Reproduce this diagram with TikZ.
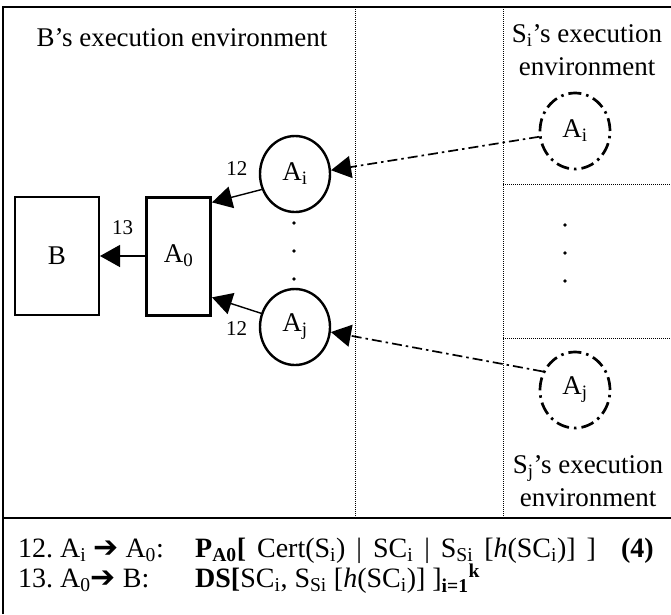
\documentclass[tikz,border=0pt]{standalone}
\usepackage{fontspec}
\setmainfont{Liberation Serif}
\newfontfamily\arrowfont{DejaVu Sans}
\usetikzlibrary{positioning,arrows.meta,shapes.geometric}
\newcommand{\sarr}{{\arrowfont\fontsize{30}{30}\selectfont ➔}}
\tikzset{
    frame/.style={line width=2.8pt},
    envline/.style={line width=1pt,dash pattern=on 1pt off 1pt},
    host/.style={draw,line width=2pt,minimum width=84pt,minimum height=118pt,inner sep=0pt},
    agent/.style={ellipse,draw,line width=2.4pt,minimum width=70pt,minimum height=76pt,inner sep=0pt},
    remote/.style={agent,line width=2.7pt,dash pattern=on 13pt off 5pt on 2.5pt off 5pt},
    msg/.style={-{Triangle[length=20pt,width=22pt]},line width=1.4pt},
    move/.style={msg,line width=1.7pt,dash pattern=on 10pt off 4pt on 2.5pt off 4pt},
    lbl/.style={font=\fontsize{21}{25}\selectfont},
    eqline/.style={anchor=base west,inner sep=0pt,font=\fontsize{28}{30}\selectfont},
}
\begin{document}
\begin{tikzpicture}[x=1pt,y=-1pt,font=\fontsize{27}{33}\selectfont]
    \useasboundingbox (0,0) rectangle (671,614);
    % frame and environments
    \draw[frame] (3,614) -- (3,7) -- (671,7);
    \draw[frame] (3,518) -- (671,518);
    \draw[envline] (355,7) -- (355,518);
    \draw[envline] (503,7) -- (503,518);
    \draw[envline] (503,184) -- (671,184);
    \draw[envline] (503,338) -- (671,338);
    \node (benv) at (182,38) {B’s execution environment};
    \node[align=center] (sienv) at (587,50) {S\textsubscript{i}’s execution\\environment};
    \node[align=center] (sjenv) at (588,481) {S\textsubscript{j}’s execution\\environment};
    % agents
    \node[host] (B) at (57,256) {B};
    \node[host,right=45pt of B,line width=3pt,minimum width=64pt] (A0) {A\textsubscript{0}};
    \node[agent] (Ai) at (295,174) {A\textsubscript{i}};
    \node[agent] (Aj) at (295,327) {A\textsubscript{j}};
    \node[remote] (DAi) at (575,131) {A\textsubscript{i}};
    \node[remote] (DAj) at (575,390) {A\textsubscript{j}};
    \foreach \y in {223,251,279} {
        \fill (294,\y) circle (1.8pt);
        \fill (565,\y+2) circle (1.9pt);
    }
    \draw[msg] (A0) -- node[lbl,above=17pt]{13} (B);
    \draw[msg] (Ai.205) -- node[lbl,above=16pt]{12} (A0.58);
    \draw[msg] (Aj.158) -- node[lbl,below=12pt]{12} (A0.-51);
    \draw[move] (DAi) -- (Ai.6);
    \draw[move] (DAj.150) -- (Aj.-8);
    % messages
    \node[eqline] (m12) at (18,557) {12.~A\textsubscript{i} \sarr{} A\textsubscript{0}:};
    \node[eqline] (p12) at (195,557) {\spaceskip=11pt\textbf{P\textsubscript{A0}[} Cert(S\textsubscript{i}) | SC\textsubscript{i} | S\textsubscript{Si} [\textit{h}(SC\textsubscript{i})] ]};
    \node[eqline,anchor=base east] (eq4) at (654,557) {\textbf{(4)}};
    \node[eqline] (m13) at (18,587) {13.~A\textsubscript{0}\sarr{} B:};
    \node[eqline] (p13) at (195,587) {\textbf{DS[}SC\textsubscript{i}, S\textsubscript{Si} [\textit{h}(SC\textsubscript{i})] ]\textsubscript{\textbf{i=1}}\textsuperscript{\textbf{k}}};
\end{tikzpicture}
\end{document}
